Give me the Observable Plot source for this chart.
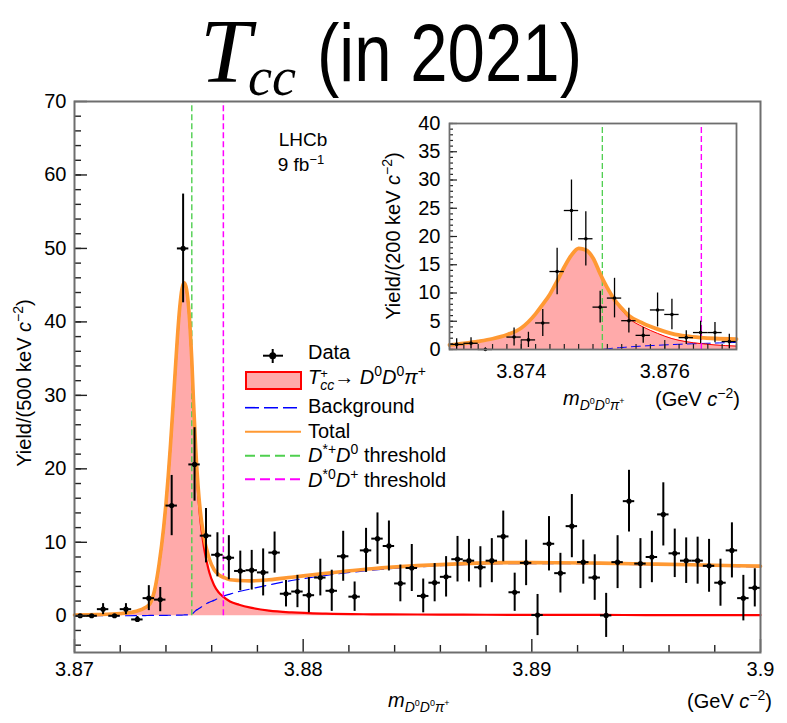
<!DOCTYPE html>
<html>
<head>
<meta charset="utf-8">
<script src="https://cdn.jsdelivr.net/npm/d3@7"></script>
<script src="https://cdn.jsdelivr.net/npm/@observablehq/plot@0.6"></script>
<style>
  body { margin: 0; background: #fff; }
  #chart { position: relative; width: 787px; height: 723px; font-family: "Liberation Sans", Arial, sans-serif; }
  #chart > svg { position: absolute; left: 0; top: 0; }
</style>
</head>
<body>
<div id="chart"></div>
<script>
// ---------- D0 D0 pi+ mass spectrum, 500 keV bins ----------
const binCenter = [
  3.87025, 3.87075, 3.87125, 3.87175, 3.87225, 3.87275, 3.87325, 3.87375, 3.87425, 3.87475,
  3.87525, 3.87575, 3.87625, 3.87675, 3.87725, 3.87775, 3.87825, 3.87875, 3.87925, 3.87975,
  3.88025, 3.88075, 3.88125, 3.88175, 3.88225, 3.88275, 3.88325, 3.88375, 3.88425, 3.88475,
  3.88525, 3.88575, 3.88625, 3.88675, 3.88725, 3.88775, 3.88825, 3.88875, 3.88925, 3.88975,
  3.89025, 3.89075, 3.89125, 3.89175, 3.89225, 3.89275, 3.89325, 3.89375, 3.89425, 3.89475,
  3.89525, 3.89575, 3.89625, 3.89675, 3.89725, 3.89775, 3.89825, 3.89875, 3.89925, 3.89975
];
const binYield = [
  0.0, 0.0, 0.9, 0.0, 0.9, -0.5, 2.4, 2.2, 15.0, 50.0,
  20.6, 10.9, 8.3, 7.9, 6.1, 6.2, 5.9, 8.6, 3.0, 3.3,
  2.8, 5.2, 3.4, 8.1, 2.6, 8.9, 10.5, 9.5, 4.4, 6.5,
  2.7, 4.5, 5.3, 7.7, 7.5, 6.6, 7.5, 10.8, 3.2, 7.2,
  0.1, 9.8, 5.8, 12.2, 7.3, 5.2, 0.05, 7.3, 15.6, 7.1,
  8.0, 13.8, 8.5, 7.5, 7.5, 6.8, 4.5, 8.9, 2.4, 3.8
];
const binError = [
  0, 0, 0.75, 0, 0.75, 0.4, 1.7, 1.65, 4.1, 7.4,
  5.0, 3.7, 3.0, 3.0, 2.7, 2.7, 3.2, 2.8, 1.8, 2.2,
  2.4, 2.5, 2.8, 3.4, 2.0, 3.0, 3.5, 3.4, 2.5, 3.2,
  2.3, 2.6, 2.75, 3.1, 2.9, 2.8, 3.0, 3.45, 2.6, 3.1,
  2.8, 3.7, 2.7, 4.3, 3.0, 3.1, 3.0, 3.6, 4.2, 3.4,
  3.5, 4.3, 3.3, 3.1, 3.2, 3.6, 3.2, 3.75, 3.1, 2.6
];
const binWidth = 0.0005;

// fit components sampled along the mass axis
const fitMass = [
  3.8700, 3.8710, 3.8720, 3.8727, 3.8731, 3.8733, 3.8735, 3.8737, 3.8739, 3.8740,
  3.8741, 3.8742, 3.8743, 3.8744, 3.8745, 3.8746, 3.8747, 3.8748, 3.8749, 3.8750,
  3.8751, 3.87513, 3.8752, 3.8753, 3.8754, 3.8755, 3.8756, 3.8757, 3.8758, 3.8759,
  3.8761, 3.8763, 3.8765, 3.8768, 3.8772, 3.8777, 3.8785, 3.8795, 3.8810, 3.8830,
  3.8850, 3.8870, 3.8890, 3.8910, 3.8930, 3.8950, 3.8970, 3.8990, 3.9000
];
const signalFit = [
  0.1, 0.15, 0.3, 0.6, 1.1, 1.6, 3.4, 7.0, 12.0, 15.2,
  19.0, 23.3, 28.0, 33.0, 37.8, 41.8, 44.4, 45.2, 44.3, 41.5,
  36.5, 34.65, 29.1, 22.1, 16.9, 13.2, 10.6, 8.6, 7.1, 5.85,
  4.2, 3.2, 2.6, 1.95, 1.5, 1.1, 0.7, 0.45, 0.28, 0.2,
  0.17, 0.15, 0.13, 0.12, 0.11, 0.1, 0.1, 0.1, 0.1
];
const backgroundFit = [
  0, 0, 0, 0.02, 0.03, 0.04, 0.04, 0.05, 0.06, 0.06,
  0.07, 0.07, 0.08, 0.08, 0.09, 0.1, 0.1, 0.11, 0.12, 0.13,
  0.14, 0.15, 0.4, 0.7, 0.9, 1.1, 1.3, 1.5, 1.7, 1.85,
  2.1, 2.4, 2.65, 2.95, 3.3, 3.65, 4.2, 4.8, 5.5, 6.2,
  6.65, 6.95, 7.1, 7.1, 7.05, 6.95, 6.85, 6.7, 6.65
];
const totalFit = [
  0.1, 0.15, 0.3, 0.62, 1.13, 1.64, 3.44, 7.05, 12.06, 15.26,
  19.07, 23.37, 28.08, 33.08, 37.89, 41.9, 44.5, 45.31, 44.42, 41.63,
  36.64, 34.8, 29.5, 22.8, 17.8, 14.3, 11.9, 10.1, 8.8, 7.7,
  6.3, 5.6, 5.25, 4.9, 4.8, 4.75, 4.9, 5.25, 5.78, 6.4,
  6.82, 7.1, 7.23, 7.22, 7.16, 7.05, 6.95, 6.8, 6.75
];

// open-charm thresholds (GeV)
const thresholdDstarPlusD0 = [3.87513];
const thresholdDstar0DPlus = [3.87651];

// ---------- zoomed view, 200 keV bins ----------
const insetCenter = [3.8731, 3.8733, 3.8735, 3.8739, 3.8741, 3.8743, 3.8745, 3.8747, 3.8749, 3.8751,
                     3.8753, 3.8755, 3.8757, 3.8759, 3.8761, 3.8763, 3.8765, 3.8767, 3.8769];
const insetYield  = [0.9, 1.1, 0.0, 2.2, 1.7, 4.7, 13.8, 24.6, 19.6, 7.5,
                     9.1, 5.1, 2.5, 7.0, 6.2, 2.1, 3.0, 3.0, 1.4];
const insetError  = [1.0, 1.0, 0.3, 1.6, 1.35, 2.4, 4.1, 5.4, 4.8, 2.8,
                     3.5, 2.2, 1.4, 3.0, 2.7, 1.2, 2.0, 1.8, 1.3];
const insetBinWidth = 0.0002;

const insetFitMass = [3.8730, 3.8732, 3.8734, 3.8736, 3.8738, 3.8740, 3.8742, 3.8743, 3.8744, 3.8745,
                      3.8746, 3.8747, 3.8748, 3.8749, 3.8750, 3.8751, 3.87513, 3.8752, 3.8753, 3.8754,
                      3.8755, 3.8757, 3.8759, 3.8761, 3.8763, 3.8765, 3.8767, 3.8770];
const insetSignalFit = [0.8, 1.1, 1.45, 1.9, 2.6, 3.8, 6.3, 8.0, 9.8, 12.1,
                        14.6, 16.7, 17.9, 17.6, 16.2, 13.4, 12.58, 10.78, 8.55, 6.95,
                        5.55, 3.98, 2.85, 1.93, 1.38, 1.04, 0.81, 0.6];
const insetBackgroundFit = [0, 0, 0, 0, 0, 0, 0, 0, 0, 0,
                            0, 0, 0, 0, 0.01, 0.01, 0.02, 0.12, 0.25, 0.35,
                            0.45, 0.62, 0.75, 0.87, 0.97, 1.06, 1.14, 1.25];
const insetTotalFit = [0.8, 1.1, 1.45, 1.9, 2.6, 3.8, 6.3, 8.0, 9.8, 12.1,
                       14.6, 16.7, 17.9, 17.6, 16.2, 13.4, 12.6, 10.9, 8.8, 7.3,
                       6.0, 4.6, 3.6, 2.8, 2.35, 2.1, 1.95, 1.85];

// ---------- axis ticks ----------
const xMajorTicks = [3.87, 3.88, 3.89, 3.9];
const xTickLabels = ["3.87", "3.88", "3.89", "3.9"];
const xMinorTicks = [3.872, 3.874, 3.876, 3.878, 3.882, 3.884, 3.886, 3.888,
                     3.892, 3.894, 3.896, 3.898];
const yMajorTicks = [0, 10, 20, 30, 40, 50, 60, 70];
const yMinorTicks = d3.range(-4, 70, 2);

const insetXMajorTicks = [3.874, 3.876];
const insetXTickLabels = ["3.874", "3.876"];
const insetXMinorTicks = d3.range(0, 21).map(i => 3.873 + i * 0.0002);
const insetYMajorTicks = [0, 5, 10, 15, 20, 25, 30, 35, 40];
const insetYMinorTicks = d3.range(0, 41);

// ---------- tables ----------
const points = binCenter.map((m, i) => ({m, y: binYield[i], e: binError[i]}));
const fit = fitMass.map((m, i) => ({m, signal: signalFit[i], background: backgroundFit[i], total: totalFit[i]}));
const insetPoints = insetCenter.map((m, i) => ({m, y: insetYield[i], e: insetError[i]}));
const insetFit = insetFitMass.map((m, i) => ({m, signal: insetSignalFit[i], background: insetBackgroundFit[i], total: insetTotalFit[i]}));

const W = 787, H = 723;
const C = {fill: "#ffaaaa", red: "#ff0000", blue: "#0000ff", orange: "#ff9933", green: "#4fcf4f", magenta: "#ff00ff", frame: "#6e6e6e", tick: "#222"};
const font = "'Liberation Sans', Arial, sans-serif";

// ---------- main panel ----------
const M = {top: 101, right: 27, bottom: 71, left: 74};
const frameW = W - M.left - M.right, frameH = H - M.top - M.bottom;

const main = Plot.plot({
  width: W, height: H,
  marginTop: M.top, marginRight: M.right, marginBottom: M.bottom, marginLeft: M.left,
  style: {background: "white", fontFamily: font, overflow: "visible"},
  x: {domain: [3.87, 3.9], label: null},
  y: {domain: [-5, 70], label: null},
  marks: [
    Plot.areaY(fit, {x: "m", y: "signal", fill: C.fill, curve: "monotone-x"}),
    Plot.line(fit, {x: "m", y: "background", stroke: C.blue, strokeWidth: 1.2, strokeDasharray: "11,6", curve: "monotone-x"}),
    Plot.line(fit, {x: "m", y: "signal", stroke: C.red, strokeWidth: 2.2, curve: "monotone-x"}),
    Plot.ruleX(thresholdDstarPlusD0, {x: d => d, y1: 0, y2: 70, stroke: C.green, strokeWidth: 1.4, strokeDasharray: "6,3"}),
    Plot.ruleX(thresholdDstar0DPlus, {x: d => d, y1: 0, y2: 70, stroke: C.magenta, strokeWidth: 1.5, strokeDasharray: "6,3"}),
    Plot.line(fit, {x: "m", y: "total", stroke: C.orange, strokeWidth: 3.6, curve: "monotone-x"}),
    // data: vertical error, bin width, marker
    Plot.ruleX(points.filter(d => d.e > 0), {x: "m", y1: d => d.y - d.e, y2: d => d.y + d.e, stroke: "black", strokeWidth: 2}),
    Plot.ruleY(points, {y: "y", x1: d => d.m - binWidth / 2, x2: d => d.m + binWidth / 2, stroke: "black", strokeWidth: 2}),
    Plot.dot(points, {x: "m", y: "y", r: 2.6, fill: "black"}),
    // inward ticks
    Plot.ruleX(xMinorTicks, {x: d => d, insetTop: frameH - 7, stroke: C.tick, strokeWidth: 1.4}),
    Plot.ruleX(xMajorTicks, {x: d => d, insetTop: frameH - 13, stroke: C.tick, strokeWidth: 1.4}),
    Plot.ruleY(yMinorTicks, {y: d => d, insetRight: frameW - 7, stroke: C.tick, strokeWidth: 1.4}),
    Plot.ruleY(yMajorTicks, {y: d => d, insetRight: frameW - 13, stroke: C.tick, strokeWidth: 1.4}),
    Plot.axisX({ticks: xMajorTicks, tickFormat: d => xTickLabels[xMajorTicks.indexOf(d)], tickSize: 0, tickPadding: 9, fontSize: 20, label: null}),
    Plot.axisY({ticks: yMajorTicks, tickSize: 0, tickPadding: 8, fontSize: 20, label: null}),
    Plot.frame({stroke: C.frame, strokeWidth: 2})
  ]
});

// ---------- zoomed panel ----------
const I = {top: 123, right: 51, bottom: 374, left: 449};
const insetW = W - I.left - I.right, insetH = H - I.top - I.bottom;

const inset = Plot.plot({
  width: W, height: H,
  marginTop: I.top, marginRight: I.right, marginBottom: I.bottom, marginLeft: I.left,
  style: {background: "none", fontFamily: font, overflow: "visible"},
  x: {domain: [3.873, 3.877], label: null},
  y: {domain: [0, 40], label: null},
  marks: [
    Plot.rect([0], {x1: 3.873, x2: 3.877, y1: 0, y2: 40, fill: "white"}),
    Plot.areaY(insetFit, {x: "m", y: "signal", fill: C.fill, curve: "monotone-x"}),
    Plot.line(insetFit, {x: "m", y: "background", stroke: C.blue, strokeWidth: 1, strokeDasharray: "9,5", curve: "monotone-x"}),
    Plot.line(insetFit, {x: "m", y: "signal", stroke: C.red, strokeWidth: 1, curve: "monotone-x"}),
    Plot.ruleX(thresholdDstarPlusD0, {x: d => d, y1: 0, y2: 40, stroke: C.green, strokeWidth: 1.3, strokeDasharray: "6,3"}),
    Plot.ruleX(thresholdDstar0DPlus, {x: d => d, y1: 0, y2: 40, stroke: C.magenta, strokeWidth: 1.4, strokeDasharray: "6,3"}),
    Plot.line(insetFit, {x: "m", y: "total", stroke: C.orange, strokeWidth: 3.8, curve: "monotone-x"}),
    Plot.ruleX(insetPoints, {x: "m", y1: d => d.y - d.e, y2: d => d.y + d.e, stroke: "black", strokeWidth: 1.3}),
    Plot.ruleY(insetPoints, {y: "y", x1: d => d.m - insetBinWidth / 2, x2: d => d.m + insetBinWidth / 2, stroke: "black", strokeWidth: 1.3}),
    Plot.dot(insetPoints, {x: "m", y: "y", r: 1.8, fill: "black"}),
    Plot.ruleX(insetXMinorTicks, {x: d => d, insetTop: insetH - 5, stroke: C.tick, strokeWidth: 1.2}),
    Plot.ruleX(insetXMajorTicks, {x: d => d, insetTop: insetH - 9, stroke: C.tick, strokeWidth: 1.2}),
    Plot.ruleY(insetYMinorTicks, {y: d => d, insetRight: insetW - 4, stroke: C.tick, strokeWidth: 1.2}),
    Plot.ruleY(insetYMajorTicks, {y: d => d, insetRight: insetW - 8, stroke: C.tick, strokeWidth: 1.2}),
    Plot.axisX({ticks: insetXMajorTicks, tickFormat: d => insetXTickLabels[insetXMajorTicks.indexOf(d)], tickSize: 0, tickPadding: 14, fontSize: 20, label: null}),
    Plot.axisY({ticks: insetYMajorTicks, tickSize: 0, tickPadding: 9, fontSize: 20, label: null}),
    Plot.frame({stroke: C.frame, strokeWidth: 1.8})
  ]
});

const chart = document.getElementById("chart");
chart.appendChild(main);
chart.appendChild(inset);

// ---------- heading, axis titles, experiment label and legend ----------
chart.insertAdjacentHTML("beforeend", `
<svg width="${W}" height="${H}" font-family="${font}" font-size="20" fill="black">
  <text x="200" y="82" font-family="'Liberation Serif', 'Times New Roman', serif" font-style="italic" font-size="92">T</text>
  <text x="248" y="95" font-family="'Liberation Serif', 'Times New Roman', serif" font-style="italic" font-size="54">cc</text>
  <text x="317" y="81" font-size="82" textLength="265" lengthAdjust="spacingAndGlyphs">(in 2021)</text>

  <text transform="translate(31,383) rotate(-90)" text-anchor="middle">Yield/(500 keV <tspan font-style="italic">c</tspan><tspan dy="-8" font-size="14">−2</tspan><tspan dy="8">)</tspan></text>
  <text x="388" y="707"><tspan font-style="italic">m</tspan><tspan dy="5" font-size="14" font-style="italic">D</tspan><tspan dy="-6" font-size="9">0</tspan><tspan dy="6" font-size="14" font-style="italic">D</tspan><tspan dy="-6" font-size="9">0</tspan><tspan dy="6" font-size="14" font-style="italic">π</tspan><tspan dy="-6" font-size="9">+</tspan></text>
  <text x="772" y="708" text-anchor="end">(GeV <tspan font-style="italic">c</tspan><tspan dy="-8" font-size="14">−2</tspan><tspan dy="8">)</tspan></text>

  <text transform="translate(400,236) rotate(-90)" text-anchor="middle">Yield/(200 keV <tspan font-style="italic">c</tspan><tspan dy="-8" font-size="14">−2</tspan><tspan dy="8">)</tspan></text>
  <text x="563" y="405"><tspan font-style="italic">m</tspan><tspan dy="5" font-size="14" font-style="italic">D</tspan><tspan dy="-6" font-size="9">0</tspan><tspan dy="6" font-size="14" font-style="italic">D</tspan><tspan dy="-6" font-size="9">0</tspan><tspan dy="6" font-size="14" font-style="italic">π</tspan><tspan dy="-6" font-size="9">+</tspan></text>
  <text x="655" y="406">(GeV <tspan font-style="italic">c</tspan><tspan dy="-8" font-size="14">−2</tspan><tspan dy="8">)</tspan></text>

  <text x="303" y="146" text-anchor="middle" font-size="19">LHCb</text>
  <text x="301" y="171" text-anchor="middle" font-size="19">9 fb<tspan dy="-7" font-size="13">−1</tspan></text>

  <g>
    <line x1="263" x2="283" y1="355.7" y2="355.7" stroke="black" stroke-width="2"/>
    <line x1="272.7" x2="272.7" y1="349" y2="363" stroke="black" stroke-width="2"/>
    <circle cx="272.7" cy="355.7" r="3.5" fill="black"/>
    <text x="308" y="359">Data</text>

    <rect x="246" y="372" width="55" height="17" fill="${C.fill}" stroke="${C.red}" stroke-width="2"/>
    <text x="308" y="384"><tspan font-style="italic">T</tspan><tspan dy="-6" font-size="13">+</tspan><tspan dx="-7.6" dy="12" font-size="14" font-style="italic">cc</tspan><tspan dy="-6">→ </tspan><tspan font-style="italic">D</tspan><tspan dy="-8" font-size="14">0</tspan><tspan dy="8" font-style="italic">D</tspan><tspan dy="-8" font-size="14">0</tspan><tspan dy="8" font-style="italic">π</tspan><tspan dy="-8" font-size="14">+</tspan></text>

    <line x1="245" x2="301" y1="407.7" y2="407.7" stroke="${C.blue}" stroke-width="1.6" stroke-dasharray="14,5"/>
    <text x="308" y="413">Background</text>

    <line x1="245" x2="301" y1="431.7" y2="431.7" stroke="${C.orange}" stroke-width="2"/>
    <text x="308" y="438">Total</text>

    <line x1="245" x2="301" y1="455.7" y2="455.7" stroke="${C.green}" stroke-width="2" stroke-dasharray="10,5"/>
    <text x="308" y="462"><tspan font-style="italic">D</tspan><tspan dy="-8" font-size="14">*+</tspan><tspan dy="8" font-style="italic">D</tspan><tspan dy="-8" font-size="14">0</tspan><tspan dy="8"> threshold</tspan></text>

    <line x1="245" x2="301" y1="479.3" y2="479.3" stroke="${C.magenta}" stroke-width="2" stroke-dasharray="10,5"/>
    <text x="308" y="487"><tspan font-style="italic">D</tspan><tspan dy="-8" font-size="14">*0</tspan><tspan dy="8" font-style="italic">D</tspan><tspan dy="-8" font-size="14">+</tspan><tspan dy="8"> threshold</tspan></text>
  </g>
</svg>`);
</script>
</body>
</html>
